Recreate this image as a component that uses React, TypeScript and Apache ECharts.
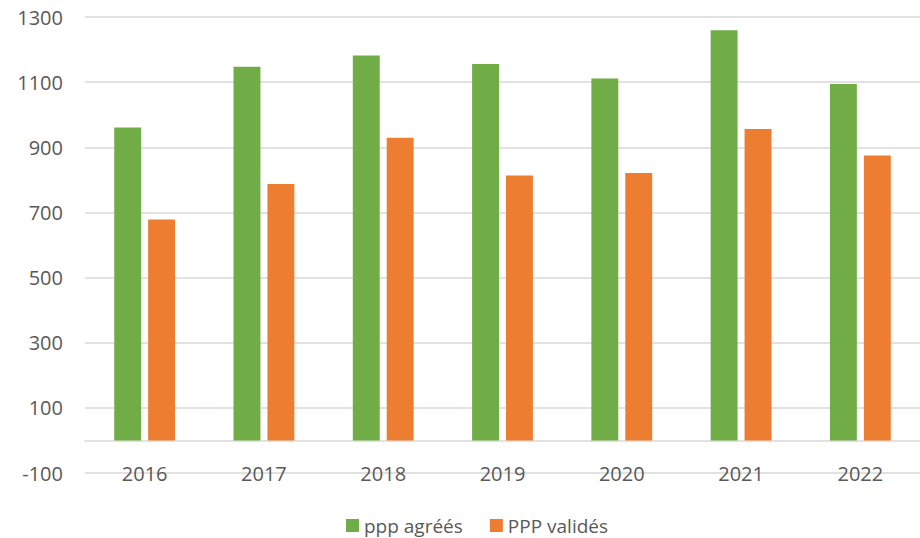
import React, { useEffect, useRef } from "react";
import * as echarts from "echarts";

const categories = ["2016", "2017", "2018", "2019", "2020", "2021", "2022"];
const pppAgrees = [961, 1147, 1182, 1156, 1111, 1259, 1094];
const pppValides = [678, 787, 929, 813, 821, 956, 875];
const seriesNames = ["ppp agréés", "PPP validés"];

const FONT = "'Open Sans', 'Liberation Sans', sans-serif";
const TEXT = "#595959";
const GRID = "#D9D9D9";

export default function App() {
  const ref = useRef<HTMLDivElement>(null);
  useEffect(() => {
    if (!ref.current) return;
    const chart = echarts.init(ref.current, null, { renderer: "svg" });
    chart.setOption({
      animation: false,
      textStyle: { fontFamily: FONT },
      grid: { left: 85, right: -5, top: 17, bottom: 65, containLabel: false },
      legend: {
        data: seriesNames,
        left: 341,
        top: 511,
        itemWidth: 13,
        itemHeight: 13,
        itemGap: 27,
        icon: "rect",
        textStyle: { fontFamily: FONT, fontSize: 19, color: TEXT },
      },
      xAxis: {
        type: "category",
        data: categories,
        axisLine: { show: true, onZero: true, lineStyle: { color: GRID, width: 1.5 } },
        axisTick: { show: false },
        axisLabel: { fontFamily: FONT, fontSize: 20, color: TEXT, margin: 0, verticalAlign: "middle" },
      },
      yAxis: {
        type: "value",
        min: -100,
        max: 1300,
        interval: 200,
        axisLine: { show: false },
        axisTick: { show: false },
        splitLine: { lineStyle: { color: GRID, width: 1.5 } },
        axisLabel: {
          fontFamily: FONT,
          fontSize: 20,
          color: TEXT,
          margin: 22,
          formatter: (v: number) => String(v),
        },
      },
      series: [
        {
          name: seriesNames[0],
          type: "bar",
          data: pppAgrees,
          barGap: "26%",
          barCategoryGap: "49%",
          itemStyle: { color: "#70AD47" },
        },
        {
          name: seriesNames[1],
          type: "bar",
          data: pppValides,
          barGap: "26%",
          barCategoryGap: "49%",
          itemStyle: { color: "#ED7D31" },
        },
      ],
    });
    return () => chart.dispose();
  }, []);
  return (
    <div
      ref={ref}
      style={{ position: "fixed", left: 0, top: 0, width: 920, height: 538, background: "#fff" }}
    />
  );
}
